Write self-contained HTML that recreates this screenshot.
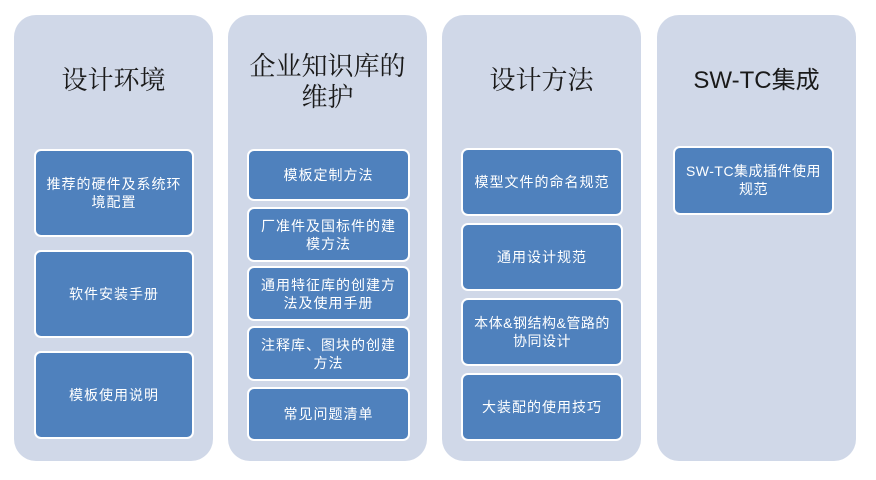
<!DOCTYPE html>
<html><head><meta charset="utf-8"><style>
body{margin:0;width:876px;height:480px;background:#fff;position:relative;font-family:"Liberation Sans","Noto Sans CJK SC",sans-serif;overflow:hidden}
.col{position:absolute;top:15px;width:199px;height:446px;background:#d0d8e8;border-radius:22px}
.t{position:absolute;left:0;width:100%;text-align:center;font-size:26px;color:#1a1a1a;line-height:31px;font-family:"Liberation Serif","Noto Serif CJK SC",serif}
.b{position:absolute;box-sizing:border-box;background:#4f81bd;border:2.5px solid #fff;border-radius:7px;color:#fff;font-size:14px;letter-spacing:1px;line-height:18px;display:flex;align-items:center;justify-content:center;text-align:center;padding:0 8px}
</style></head><body>
<div class="col" style="left:14px"><div class="t" style="top:50px">设计环境</div></div>
<div class="col" style="left:228px"><div class="t" style="top:36px">企业知识库的<br>维护</div></div>
<div class="col" style="left:442px"><div class="t" style="top:50px">设计方法</div></div>
<div class="col" style="left:657px"><div class="t" style="top:50px;font-size:24px;font-family:'Liberation Sans','Noto Sans CJK SC',sans-serif">SW-TC集成</div></div>

<div class="b" style="left:34px;top:149px;width:160px;height:88px">推荐的硬件及系统环境配置</div>
<div class="b" style="left:34px;top:250px;width:160px;height:88px">软件安装手册</div>
<div class="b" style="left:34px;top:351px;width:160px;height:88px">模板使用说明</div>

<div class="b" style="left:247px;top:149px;width:163px;height:52px">模板定制方法</div>
<div class="b" style="left:247px;top:207px;width:163px;height:55px">厂准件及国标件的建模方法</div>
<div class="b" style="left:247px;top:266px;width:163px;height:55px">通用特征库的创建方法及使用手册</div>
<div class="b" style="left:247px;top:326px;width:163px;height:55px">注释库、图块的创建方法</div>
<div class="b" style="left:247px;top:387px;width:163px;height:54px">常见问题清单</div>

<div class="b" style="left:461px;top:148px;width:162px;height:68px;padding:0 4px">模型文件的命名规范</div>
<div class="b" style="left:461px;top:223px;width:162px;height:68px">通用设计规范</div>
<div class="b" style="left:461px;top:298px;width:162px;height:68px;padding:0 4px;letter-spacing:0.5px">本体&amp;钢结构&amp;管路的协同设计</div>
<div class="b" style="left:461px;top:373px;width:162px;height:68px">大装配的使用技巧</div>

<div class="b" style="left:673px;top:146px;width:161px;height:69px;align-items:flex-start;padding:14px 8px 0;letter-spacing:0.5px">SW-TC集成插件使用规范</div>
</body></html>
